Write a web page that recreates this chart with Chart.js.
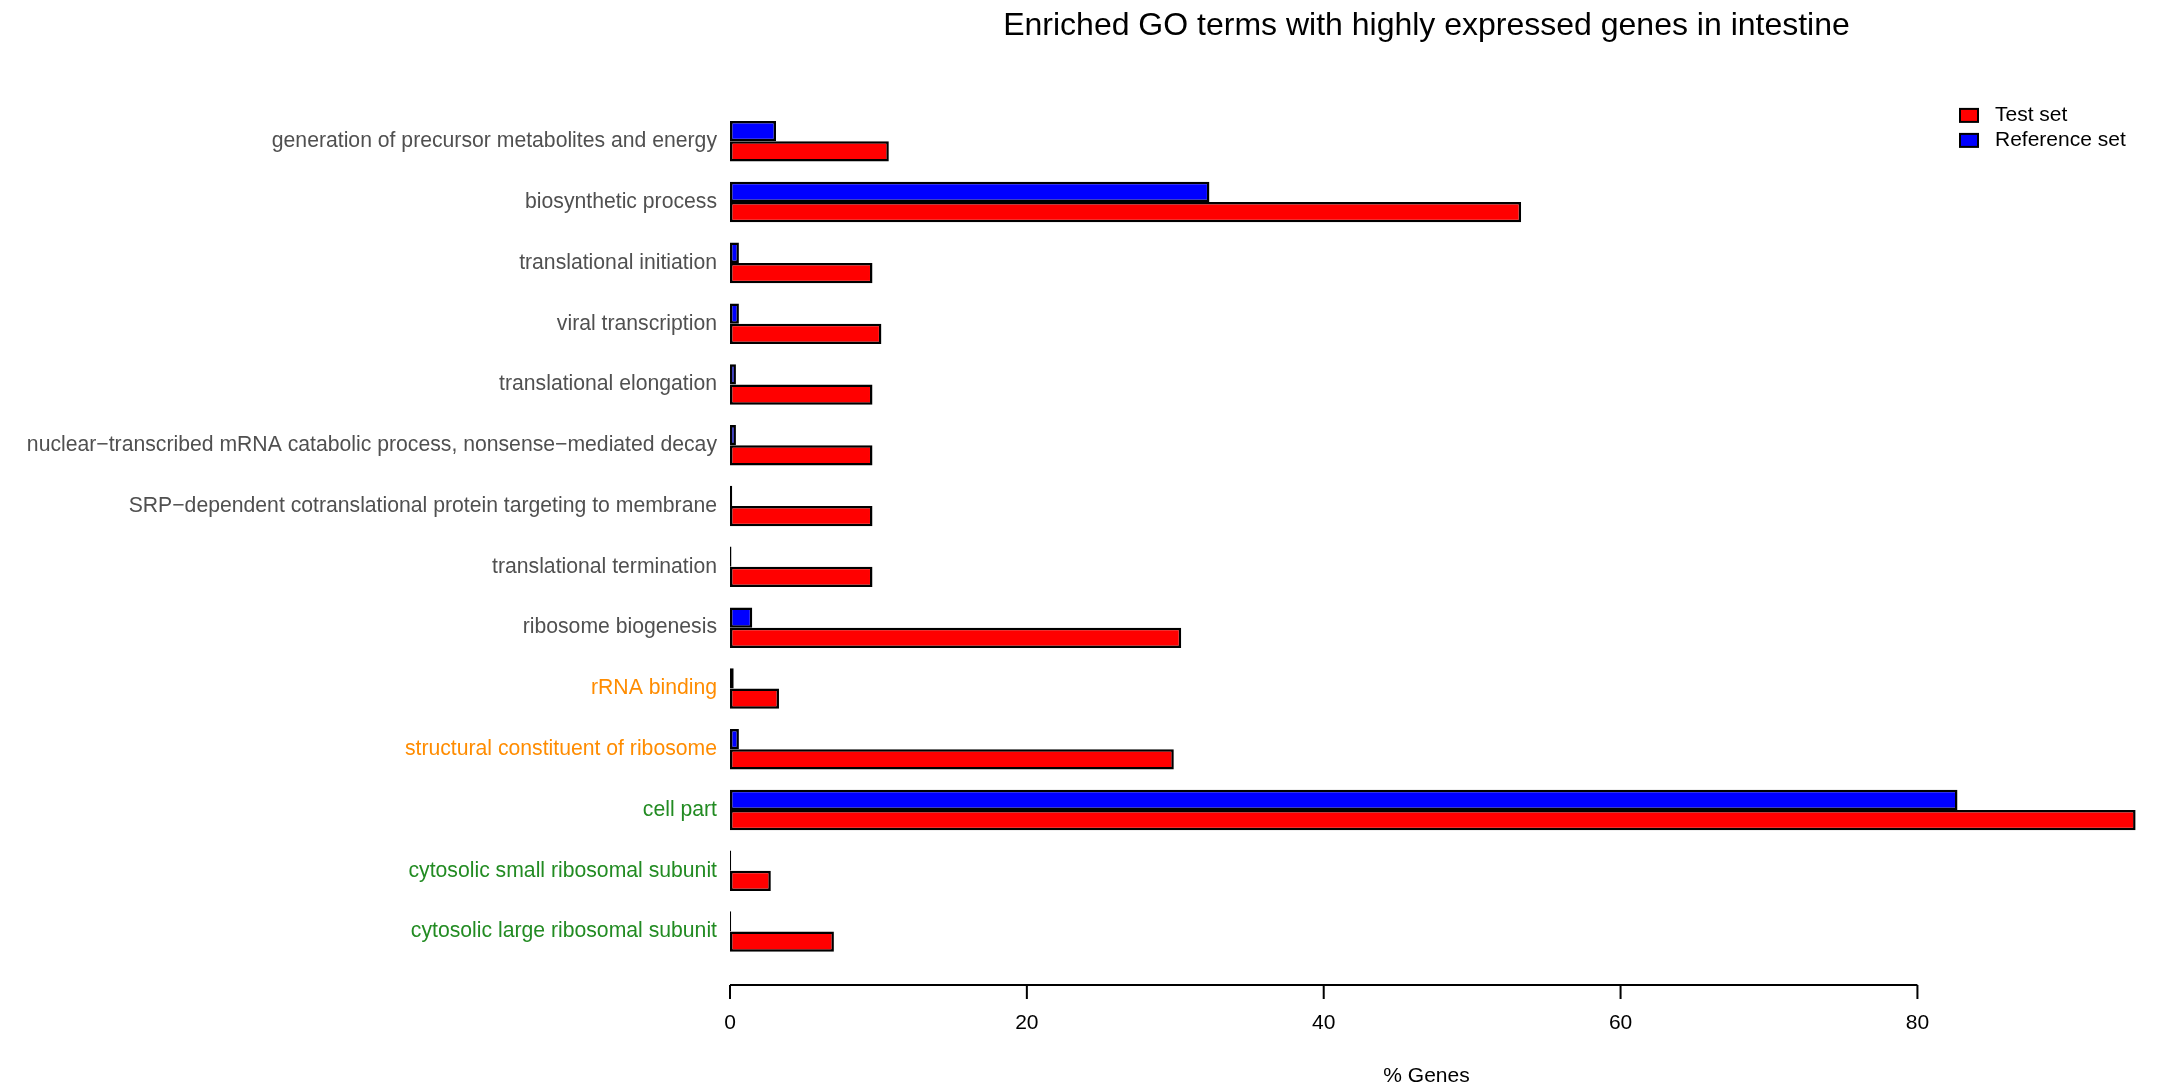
<!DOCTYPE html>
<html>
<head>
<meta charset="utf-8">
<title>Enriched GO terms with highly expressed genes in intestine</title>
<script src="https://cdn.jsdelivr.net/npm/chart.js@4/dist/chart.umd.min.js"></script>
<style>
  html, body { margin: 0; padding: 0; background: #ffffff; }
  canvas { display: block; }
</style>
</head>
<body>
<canvas id="goChart" width="2167" height="1091"></canvas>
<script>
// GO terms, listed top to bottom
const categories = [
  'generation of precursor metabolites and energy',
  'biosynthetic process',
  'translational initiation',
  'viral transcription',
  'translational elongation',
  'nuclear\u2212transcribed mRNA catabolic process, nonsense\u2212mediated decay',
  'SRP\u2212dependent cotranslational protein targeting to membrane',
  'translational termination',
  'ribosome biogenesis',
  'rRNA binding',
  'structural constituent of ribosome',
  'cell part',
  'cytosolic small ribosomal subunit',
  'cytosolic large ribosomal subunit'
];

// label colour by ontology: process (grey), function (orange), component (green)
const termColors = [
  '#505050', '#505050', '#505050', '#505050', '#505050', '#505050', '#505050', '#505050', '#505050',
  '#ff8c00', '#ff8c00',
  '#228b22', '#228b22', '#228b22'
];

// % genes annotated to each term
const testSet      = [10.7, 53.3, 9.6, 10.2, 9.6, 9.6, 9.6, 9.6, 30.4, 3.3, 29.9, 94.7, 2.75, 7.0];
const referenceSet = [3.1, 32.3, 0.6, 0.6, 0.4, 0.4, 0.15, 0.1, 1.5, 0.25, 0.6, 82.7, 0.08, 0.08];

const xTicks = [0, 20, 40, 60, 80];

const FONT = "'Liberation Sans', Arial, Helvetica, sans-serif";

// R-style value axis: a line spanning the first to last tick, with tick marks below it
const baseAxis = {
  id: 'baseAxis',
  afterDraw(chart) {
    const { ctx, chartArea, scales: { x } } = chart;
    const y0 = chartArea.bottom + 23;
    ctx.save();
    ctx.strokeStyle = '#000000';
    ctx.lineWidth = 2;
    ctx.beginPath();
    ctx.moveTo(x.getPixelForValue(xTicks[0]), y0);
    ctx.lineTo(x.getPixelForValue(xTicks[xTicks.length - 1]), y0);
    xTicks.forEach(v => {
      const px = x.getPixelForValue(v);
      ctx.moveTo(px, y0);
      ctx.lineTo(px, y0 + 14);
    });
    ctx.stroke();
    ctx.restore();
  }
};

// Legend in the top-right corner, Test set listed first
const cornerLegend = {
  id: 'cornerLegend',
  afterDraw(chart) {
    const { ctx, chartArea } = chart;
    const items = chart.data.datasets.slice().reverse();
    const boxX = chart.width - 207;
    const textX = chart.width - 172;
    ctx.save();
    ctx.font = '21px ' + FONT;
    ctx.textBaseline = 'middle';
    ctx.textAlign = 'left';
    items.forEach((ds, i) => {
      const cy = chartArea.top + 4.5 + i * 25;
      ctx.fillStyle = ds.backgroundColor;
      ctx.fillRect(boxX, cy - 6.5, 18, 13);
      ctx.strokeStyle = '#000000';
      ctx.lineWidth = 2;
      ctx.strokeRect(boxX, cy - 6.5, 18, 13);
      ctx.fillStyle = '#000000';
      ctx.fillText(ds.label, textX, cy);
    });
    ctx.restore();
  }
};

new Chart(document.getElementById('goChart'), {
  type: 'bar',
  data: {
    labels: categories,
    datasets: [
      {
        label: 'Reference set',
        data: referenceSet,
        backgroundColor: '#0000ff',
        borderColor: '#000000',
        borderWidth: 2.5,
        borderSkipped: false,
        clip: false
      },
      {
        label: 'Test set',
        data: testSet,
        backgroundColor: '#ff0000',
        borderColor: '#000000',
        borderWidth: 2.5,
        borderSkipped: false,
        clip: false
      }
    ]
  },
  options: {
    indexAxis: 'y',
    responsive: false,
    animation: false,
    devicePixelRatio: 1,
    datasets: {
      bar: { categoryPercentage: 2 / 3, barPercentage: 1 }
    },
    layout: { padding: { left: 0, right: 44, top: 0, bottom: 0 } },
    plugins: {
      legend: { display: false },
      tooltip: { enabled: false },
      title: {
        display: true,
        text: 'Enriched GO terms with highly expressed genes in intestine',
        fullSize: false,
        color: '#000000',
        font: { family: FONT, size: 32, weight: 'normal' },
        padding: { top: 7, bottom: 65.5 }
      }
    },
    scales: {
      x: {
        type: 'linear',
        min: 0,
        max: 93.85,
        grid: { display: false },
        border: { display: false },
        afterBuildTicks: scale => { scale.ticks = xTicks.map(v => ({ value: v })); },
        afterFit: scale => { scale.height = 129; },
        ticks: {
          color: '#000000',
          padding: 41,
          maxRotation: 0,
          font: { family: FONT, size: 21 }
        },
        title: {
          display: true,
          text: '% Genes',
          color: '#000000',
          font: { family: FONT, size: 21 },
          padding: { top: 26, bottom: 2 }
        }
      },
      y: {
        grid: { display: false },
        border: { display: false },
        afterFit: scale => { scale.width = 730; },
        ticks: {
          padding: 5,
          autoSkip: false,
          color: ctx => termColors[ctx.index],
          font: { family: FONT, size: 21.2 }
        }
      }
    }
  },
  plugins: [baseAxis, cornerLegend]
});
</script>
</body>
</html>
